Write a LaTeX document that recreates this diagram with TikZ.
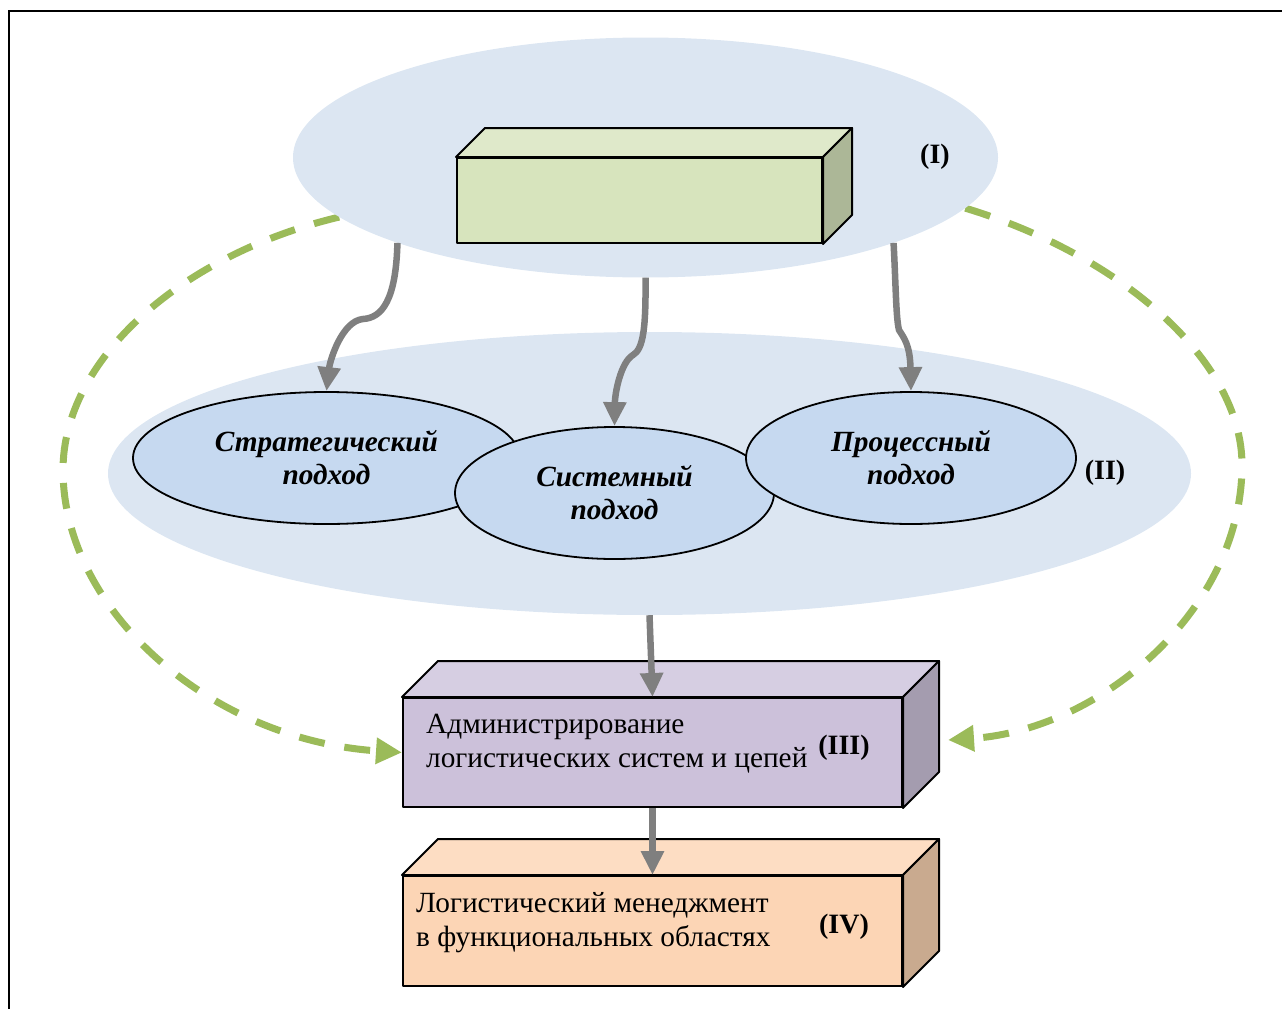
\documentclass[tikz,border=0pt]{standalone}
\usepackage{fontspec}
\setmainfont{Liberation Serif}
\usetikzlibrary{arrows.meta,shapes.geometric,calc,backgrounds}
\definecolor{bigell}{HTML}{DCE6F2}
\definecolor{smallell}{HTML}{C6D9F0}
\definecolor{arrowgray}{HTML}{7F7F7F}
\definecolor{dashgreen}{HTML}{9BBB59}
\definecolor{gfront}{HTML}{D7E4BD}
\definecolor{gtop}{HTML}{DFE9CA}
\definecolor{gside}{HTML}{ACB797}
\definecolor{pfront}{HTML}{CCC1DA}
\definecolor{ptop}{HTML}{D6CEE2}
\definecolor{pside}{HTML}{A49CAF}
\definecolor{ofront}{HTML}{FCD5B5}
\definecolor{otop}{HTML}{FDDDC3}
\definecolor{oside}{HTML}{C9AA8F}
\begin{document}
\begin{tikzpicture}[x=1pt,y=-1pt,
  bigellipse/.style={ellipse, fill=bigell, inner sep=0pt},
  approach/.style={ellipse, draw=black, line width=1.8pt, fill=smallell, inner sep=0pt, align=center,
    font=\fontsize{29.3}{33}\selectfont\bfseries\itshape},
  face/.style={draw=black, line width=2pt, line join=round},
  grayarrow/.style={draw=arrowgray, line width=6.5pt, -{Triangle[length=24pt,width=22pt]}},
  greenarrow/.style={draw=dashgreen, line width=7pt, dash pattern=on 26pt off 20pt, -{Triangle[length=26pt,width=25pt]}},
  boxtext/.style={anchor=west, align=left, inner sep=0pt, font=\fontsize{29.3}{34}\selectfont},
  roman/.style={inner sep=0pt, font=\fontsize{28}{34}\selectfont\bfseries}
]
\useasboundingbox (0,0) rectangle (1282,1009);
\draw[line width=2pt] (9,1009) -- (9,11) -- (1282,11);

% level ellipses
\node[bigellipse, minimum width=705pt, minimum height=240pt] (ellI) at (645.5,157.5) {};
\node[bigellipse, minimum width=1083pt, minimum height=283pt] (ellII) at (649.5,473.5) {};

% box I
\node[face, fill=gfront, minimum width=365pt, minimum height=85pt, inner sep=0pt, anchor=north west] (boxI) at (456,157) {};
\draw[face, fill=gtop] (boxI.north west) -- ++(29,-29) -- ($(boxI.north east)+(29,-29)$) -- (boxI.north east) -- cycle;
\draw[face, fill=gside] (boxI.north east) -- ++(29,-29) -- ($(boxI.south east)+(29,-29)$) -- (boxI.south east) -- cycle;
\node[roman] (lI) at (935,157) {(I)};

% approaches
\node[approach, minimum width=387pt, minimum height=132pt] (strat) at (326.5,458) {Стратегический\\подход};
\node[approach, minimum width=319pt, minimum height=132pt] (sys) at (614.5,493) {Системный\\подход};
\node[approach, minimum width=330pt, minimum height=132pt] (proc) at (911,458) {Процессный\\подход};
\node[roman] (lII) at (1105,473) {(II)};

% gray arrows from level I
\draw[grayarrow] (ellI.199.4) .. controls (396,300) and (382,318) .. (363,319)
  .. controls (342,321) and (330,360) .. (strat.north);
\draw[grayarrow] (ellI.south) .. controls (646,330) and (643,349) .. (633,355)
  .. controls (621,362) and (615,392) .. (sys.north);
\draw[grayarrow] (ellI.341.7) .. controls (896,290) and (896,318) .. (899,330)
  .. controls (904,338) and (910,345) .. (proc.north);

% box III
\node[face, fill=pfront, minimum width=499pt, minimum height=109pt, inner sep=0pt, anchor=north west] (boxIII) at (402,697) {};
\draw[face, fill=ptop] (boxIII.north west) -- ++(36,-36) -- ($(boxIII.north east)+(36,-36)$) -- (boxIII.north east) -- cycle;
\draw[face, fill=pside] (boxIII.north east) -- ++(36,-36) -- ($(boxIII.south east)+(36,-36)$) -- (boxIII.south east) -- cycle;
\node[boxtext] (tIII) at (426,744) {Администрирование\\логистических систем и цепей};
\node[roman] (lIII) at (844,748) {(III)};

% box IV
\node[face, fill=ofront, minimum width=499pt, minimum height=110pt, inner sep=0pt, anchor=north west] (boxIV) at (402,875) {};
\draw[face, fill=otop] (boxIV.north west) -- ++(36,-36) -- ($(boxIV.north east)+(36,-36)$) -- (boxIV.north east) -- cycle;
\draw[face, fill=oside] (boxIV.north east) -- ++(36,-36) -- ($(boxIV.south east)+(36,-36)$) -- (boxIV.south east) -- cycle;
\node[boxtext] (tIV) at (416,923) {Логистический менеджмент\\в функциональных областях};
\node[roman] (lIV) at (844,927) {(IV)};

% vertical arrows
\draw[grayarrow] (ellII.south) -- (boxIII.north);
\draw[grayarrow] (boxIII.south) -- (boxIV.north);

% green dashed feedback
\coordinate (rin) at (948,740);
\begin{pgfonlayer}{background}
\draw[greenarrow] (ellI.191) .. controls (180,255) and (63,360) .. (63,470)
  .. controls (63,610) and (210,740) .. (boxIII.west);
\draw[greenarrow] (ellI.351) .. controls (1120,255) and (1242,360) .. (1242,465)
  .. controls (1242,610) and (1100,730) .. (rin);
\end{pgfonlayer}
\end{tikzpicture}
\end{document}
